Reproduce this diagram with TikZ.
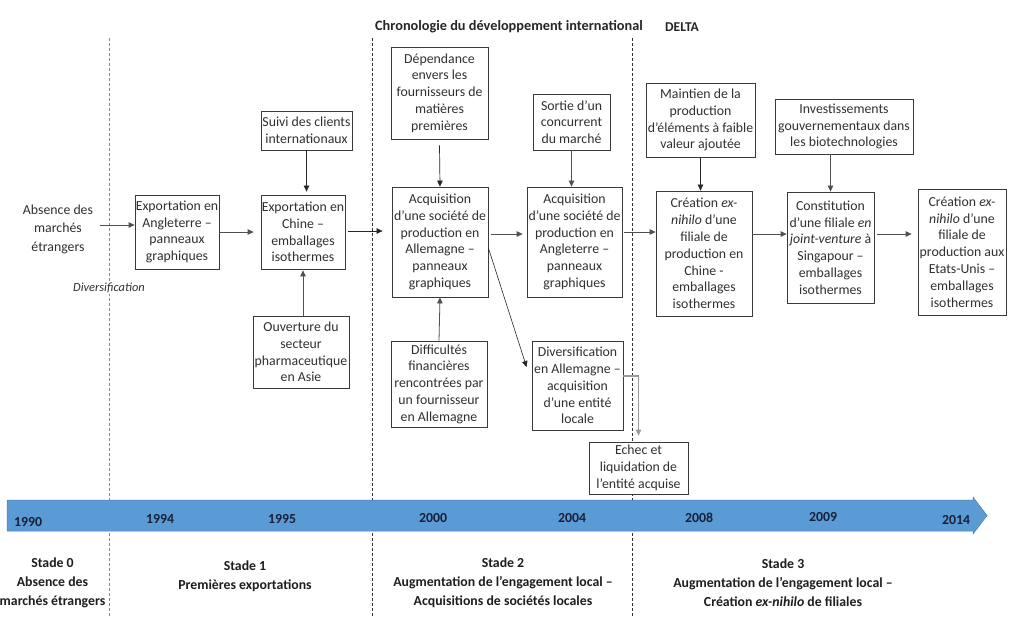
\documentclass[tikz,border=0pt]{standalone}
\usepackage{fontspec}
\setmainfont{Carlito}
\usetikzlibrary{arrows.meta,calc}
\definecolor{boxc}{HTML}{3A3A3A}
\definecolor{txtc}{HTML}{303030}
\definecolor{arrc}{HTML}{505050}
\definecolor{bandc}{HTML}{5B9BD5}
\definecolor{bandedge}{HTML}{4A7FB5}
\definecolor{yearc}{HTML}{17203A}
\definecolor{stagec}{HTML}{1E1E1E}
\definecolor{dashgray}{HTML}{8A8A8A}
\definecolor{dashdark}{HTML}{303030}
\begin{document}
\begin{tikzpicture}[x=1pt,y=-1pt,
  box/.style={draw=boxc, line width=0.8pt, fill=white, inner sep=0pt, align=center,
    text=txtc, font=\fontsize{13.8}{16.8}\selectfont},
  arr/.style={-{Triangle[length=6pt,width=5.5pt]}, line width=0.8pt, draw=arrc},
  darr/.style={-{Triangle[length=6pt,width=5.5pt]}, line width=0.7pt, draw=black!85},
  year/.style={font=\bfseries\fontsize{13.8}{16}\selectfont, text=yearc, inner sep=0pt},
  stage/.style={font=\bfseries\fontsize{13.8}{19}\selectfont, text=stagec, align=center, inner sep=0pt},
  sep/.style={dash pattern=on 3pt off 2pt, line width=0.8pt}
]
\useasboundingbox (0,0) rectangle (1024,630);
\fill[white] (0,0) rectangle (1024,630);

% title
\node[font=\bfseries\fontsize{14.3}{16}\selectfont, text=black!85, inner sep=0pt] (title) at (509,27) {Chronologie du développement international};
\node[font=\bfseries\fontsize{13.5}{16}\selectfont, text=black!85, inner sep=0pt] (delta) at (682,27) {DELTA};

% stage separators
\coordinate (d1t) at (109,38); \coordinate (d1b) at (109,617);
\coordinate (d2t) at (372,38); \coordinate (d2b) at (372,617);
\coordinate (d3t) at (632,38); \coordinate (d3b) at (632,617);
\draw[sep, draw=dashgray] (d1t) -- (d1b);
\draw[sep, draw=dashdark] (d2t) -- (d2b);
\draw[sep, draw=dashdark] (d3t) -- (d3b);

% timeline band
\draw[fill=bandc, draw=bandedge, line width=0.5pt] (7,500) -- (973,500) -- (973,497) -- (987,515.5) -- (973,534) -- (973,531) -- (7,531) -- cycle;
\node[year] (y1990) at (28,522) {1990};
\node[year] (y1994) at (160,519) {1994};
\node[year] (y1995) at (282,519) {1995};
\node[year] (y2000) at (433,518) {2000};
\node[year] (y2004) at (572,518) {2004};
\node[year] (y2008) at (699,518) {2008};
\node[year] (y2009) at (823,517) {2009};
\node[year] (y2014) at (956,520) {2014};

% stages
\node[stage] (s0) at (52.5,583) {Stade 0\\Absence des\\marchés étrangers};
\node[stage] (s1) at (245,576.5) {Stade 1\\Premières exportations};
\node[stage] (s2) at (503,582.5) {Stade 2\\Augmentation de l’engagement local –\\Acquisitions de sociétés locales};
\node[stage] (s3) at (783,582.5) {Stade 3\\Augmentation de l’engagement local –\\Création \textit{ex-nihilo} de filiales};

% left text
\node[align=center, text=txtc, inner sep=0pt, font=\fontsize{13.8}{18.5}\selectfont] (abs) at (58,229) {Absence des\\marchés\\étrangers};
\node[fill=white, inner sep=1pt, text=txtc, font=\itshape\fontsize{12.4}{15}\selectfont] (div) at (109,288) {Diversification};

% boxes
\node[box, minimum width=84pt, minimum height=74pt] (A) at (177,232) {Exportation en\\Angleterre –\\panneaux\\graphiques};
\node[box, minimum width=84pt, minimum height=74pt] (B) at (303,232) {Exportation en\\Chine –\\emballages\\isothermes};
\node[box, minimum width=91pt, minimum height=39pt] (S) at (306.5,130.5) {Suivi des clients\\internationaux};
\node[box, minimum width=96pt, minimum height=72pt] (O) at (301,352) {Ouverture du\\secteur\\pharmaceutique\\en Asie};
\node[box, minimum width=97pt, minimum height=92pt] (C) at (439.5,93) {Dépendance\\envers les\\fournisseurs de\\matières\\premières};
\node[box, minimum width=96pt, minimum height=110pt] (D) at (440,242) {Acquisition\\d’une société de\\production en\\Allemagne –\\panneaux\\graphiques};
\node[box, minimum width=96pt, minimum height=86pt] (E) at (439,384) {Difficultés\\financières\\rencontrées par\\un fournisseur\\en Allemagne};
\node[box, minimum width=95pt, minimum height=110pt] (F) at (574.5,242) {Acquisition\\d’une société de\\production en\\Angleterre –\\panneaux\\graphiques};
\node[box, minimum width=77pt, minimum height=56pt] (G) at (571.5,122) {Sortie d’un\\concurrent\\du marché};
\node[box, minimum width=96pt, minimum height=125pt] (H) at (704,253.5) {Création \textit{ex-}\\\textit{nihilo} d’une\\filiale de\\production en\\Chine -\\emballages\\isothermes};
\node[box, minimum width=109pt, minimum height=74pt] (I) at (700.5,120) {Maintien de la\\production\\d’éléments à faible\\valeur ajoutée};
\node[box, minimum width=87pt, minimum height=111pt] (J) at (830.5,247.5) {Constitution\\d’une filiale \textit{en}\\\textit{joint-venture} à\\Singapour –\\emballages\\isothermes};
\node[box, minimum width=138pt, minimum height=55pt] (K) at (844,126.5) {Investissements\\gouvernementaux dans\\les biotechnologies};
\node[box, minimum width=88pt, minimum height=126pt] (L) at (962,252) {Création \textit{ex-}\\\textit{nihilo} d’une\\filiale de\\production aux\\Etats-Unis –\\emballages\\isothermes};
\node[box, minimum width=91pt, minimum height=89pt] (M) at (577.5,385.5) {Diversification\\en Allemagne –\\acquisition\\d’une entité\\locale};
\node[box, minimum width=99pt, minimum height=52pt] (N) at (638.5,468) {Echec et\\liquidation de\\l’entité acquise};

% horizontal flow
\draw[arr] ([xshift=7pt,yshift=4pt]abs.east) -- ([yshift=7pt]A.west);
\draw[arr] ([xshift=1pt]A.east) -- ([xshift=-7pt]B.west);
\draw[darr] ([xshift=3pt,yshift=1pt]B.east) -- ([xshift=-9pt,yshift=11pt]D.west);
\draw[arr] ([xshift=3pt,yshift=8pt]D.east) -- ([xshift=-4pt,yshift=8pt]F.west);
\draw[arr] ([xshift=2pt,yshift=10pt]F.east) -- ([yshift=21.5pt]H.west);
\draw[arr] ([yshift=19.5pt]H.east) -- ([yshift=13.5pt]J.west);
\draw[arr] ([xshift=3pt,yshift=13.5pt]J.east) -- ([xshift=-6pt,yshift=18pt]L.west);

% vertical influences
\draw[darr] (S.south) -- ([yshift=3pt]S.south |- B.north);
\draw[arr] (B.south |- O.north) -- ([yshift=-1pt]B.south);
\draw[darr] ([yshift=-6pt]C.south) -- (D.north);
\draw[arr] (E.north) -- (D.south);
\draw[arr] (G.south) -- (G.south |- F.north);
\draw[darr] (I.south) -- (I.south |- H.north);
\draw[arr] (J.north |- K.south) -- (J.north);

% diversification branch
\draw[darr, line width=0.6pt] ([yshift=-6pt]D.east) -- ([xshift=-5pt,yshift=18.5pt]M.west);
\draw[arr, draw=gray!80, line width=1.2pt] ([yshift=9.5pt]M.east) -| ([yshift=6pt]N.north);
\end{tikzpicture}
\end{document}
